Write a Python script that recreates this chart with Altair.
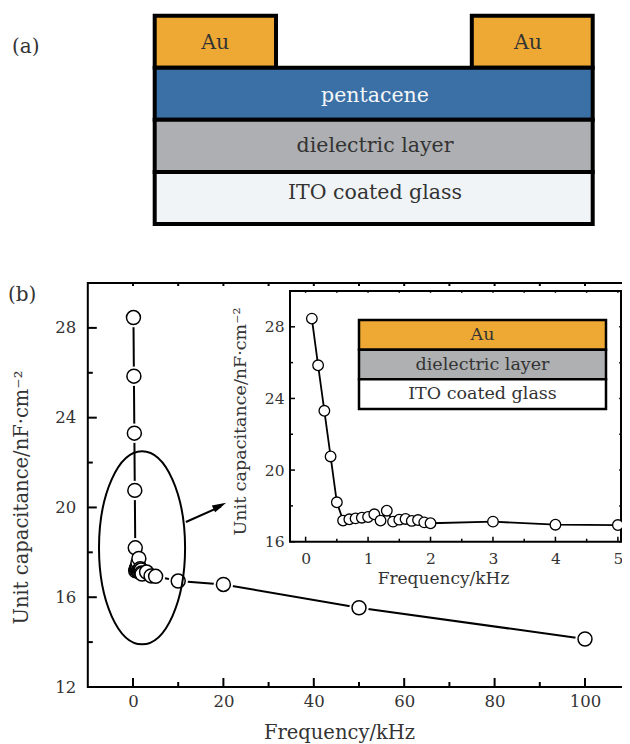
import altair as alt
import pandas as pd

FONT = "DejaVu Serif"
INK = "#333333"

# Measured capacitance
freq_low = [0.1, 0.2, 0.3, 0.4, 0.5, 0.6, 0.7, 0.8, 0.9, 1.0, 1.1, 1.2, 1.3, 1.4, 1.5, 1.6, 1.7, 1.8, 1.9, 2.0, 3, 4, 5]
cap_low = [28.46, 25.85, 23.31, 20.76, 18.2, 17.18, 17.25, 17.3, 17.34, 17.38, 17.53, 17.18, 17.73, 17.12, 17.23, 17.27, 17.16, 17.21, 17.08, 17.03, 17.12, 16.95, 16.93]
freq_high = [10, 20, 50, 100]
cap_high = [16.72, 16.57, 15.53, 14.14]

# Axis ticks
main_x_major = [0, 20, 40, 60, 80, 100]
main_x_minor = [10, 30, 50, 70, 90]
main_y_major = [12, 16, 20, 24, 28]
main_y_minor = [14, 18, 22, 26]
inset_x_major = [0, 1, 2, 3, 4, 5]
inset_x_minor = [0.5, 1.5, 2.5, 3.5, 4.5]
inset_y_major = [16, 20, 24, 28]
inset_y_minor = [18, 22, 26]

# Device stack (a)
stack_names = ["Au", "Au", "pentacene", "dielectric layer", "ITO coated glass"]
stack_x0 = [0, 0.724, 0, 0, 0]
stack_x1 = [0.277, 1, 1, 1, 1]
stack_y0 = [3, 3, 2, 1, 0]
stack_y1 = [4, 4, 3, 2, 1]
stack_fill = ["#EDA933", "#EDA933", "#3A70A6", "#AEAFB2", "#F1F4F6"]
stack_text = ["#333333", "#333333", "#F4F6F8", "#333333", "#333333"]
stack_tx = [0.138, 0.852, 0.503, 0.503, 0.503]
stack_ty = [3.48, 3.48, 2.46, 1.5, 0.6]

# Inset stack
key_names = ["Au", "dielectric layer", "ITO coated glass"]
key_fill = ["#EDA933", "#AEB0B2", "#FFFFFF"]
key_y0 = [2, 1, 0]
key_y1 = [3, 2, 1]

main_df = pd.DataFrame({"mf": freq_low + freq_high, "mc": cap_low + cap_high})
inset_df = pd.DataFrame({"inf": freq_low, "inc": cap_low})

# ---------------- scales
mx = alt.Scale(domain=[-10, 110], range=[79.8, 622.2], nice=False, zero=False)
my = alt.Scale(domain=[12, 30], range=[679, 275], nice=False, zero=False)
ix = alt.Scale(domain=[-0.25, 5.05], range=[282, 613], nice=False, zero=False)
iy = alt.Scale(domain=[16, 30], range=[533.7, 283], nice=False, zero=False)
sx = alt.Scale(domain=[0, 1], range=[146.7, 584.7], nice=False, zero=False)
sy = alt.Scale(domain=[0, 4], range=[216, 7.7], nice=False, zero=False)
kx = alt.Scale(domain=[0, 1], range=[351, 598], nice=False, zero=False)
ky = alt.Scale(domain=[0, 3], range=[401, 312], nice=False, zero=False)


def ticks(x_f, y_f, xs, ys, xscale, yscale, xlo, xhi, ylo, yhi, major, minor, x_major, y_major, width):
    """Inward tick marks on the frame, given in data units."""
    dx = (xhi - xlo) / abs(xscale.range[1] - xscale.range[0])
    dy = (yhi - ylo) / abs(yscale.range[1] - yscale.range[0])
    rows = []
    for v in xs:
        ln = major if v in x_major else minor
        rows.append((v, ylo, v, ylo + ln * dy))
        rows.append((v, yhi, v, yhi - minor * 0.6 * dy))
    for v in ys:
        ln = major if v in y_major else minor
        rows.append((xlo, v, xlo + ln * dx, v))
        rows.append((xhi, v, xhi - minor * 0.6 * dx, v))
    d = pd.DataFrame(rows, columns=[x_f, y_f, x_f + "2", y_f + "2"])
    return alt.Chart(d).mark_rule(color="black", strokeWidth=width).encode(
        x=alt.X(x_f + ":Q", scale=xscale, axis=None),
        x2=x_f + "2:Q",
        y=alt.Y(y_f + ":Q", scale=yscale, axis=None),
        y2=y_f + "2:Q",
    )


def frame(x_f, y_f, xlo, xhi, ylo, yhi, xscale, yscale, xaxis, yaxis, width):
    d = pd.DataFrame({x_f: [xlo], x_f + "2": [xhi], y_f: [ylo], y_f + "2": [yhi]})
    return alt.Chart(d).mark_rect(fillOpacity=0, stroke="black", strokeWidth=width).encode(
        x=alt.X(x_f + ":Q", scale=xscale, axis=xaxis),
        x2=x_f + "2:Q",
        y=alt.Y(y_f + ":Q", scale=yscale, axis=yaxis),
        y2=y_f + "2:Q",
    )


def axis(values, orient, offset, title, tx, ty, size, pad, tsize, fmt="d"):
    return alt.Axis(
        values=values, orient=orient, offset=offset, title=title, titleX=tx, titleY=ty,
        format=fmt, domain=False, ticks=False, grid=False, labelFont=FONT, labelFontSize=size,
        labelColor=INK, labelPadding=pad, labelFlush=False, labelOverlap=False,
        titleFont=FONT, titleFontSize=tsize, titleFontWeight="normal", titleColor=INK,
    )


CAP = "Unit capacitance/nF·cm⁻²"
FRQ = "Frequency/kHz"

main_frame = frame(
    "mf", "mc", -10, 110, 12, 30, mx, my,
    axis(main_x_major, "bottom", -57, FRQ, 331, 36, 16.5, 6, 19.5),
    axis(main_y_major, "left", -79.8, CAP, -56, 489, 16.5, 12, 19.5),
    2,
)
main_ticks = ticks("mf", "mc", main_x_major + main_x_minor, main_y_major + main_y_minor, mx, my,
                   -10, 110, 12, 30, 9, 5, main_x_major, main_y_major, 2)
enc_main = dict(
    x=alt.X("mf:Q", scale=mx, axis=None),
    y=alt.Y("mc:Q", scale=my, axis=None),
)
main_line = alt.Chart(main_df).mark_line(color="black", strokeWidth=2).encode(order=alt.Order("mf:Q"), **enc_main)
main_halo = alt.Chart(main_df).mark_point(shape="circle", filled=True, fill="white", stroke=None, opacity=1, size=380).encode(**enc_main)
main_pts = alt.Chart(main_df).mark_point(shape="circle", filled=True, fill="white", stroke="black", strokeWidth=1.5, opacity=1, size=195).encode(**enc_main)

ell_df = pd.DataFrame({"mf": [2.0], "mc": [18.2]})
ellipse = alt.Chart(ell_df).mark_point(
    shape="M0,-1A0.446,1 0 1,1 0,1A0.446,1 0 1,1 0,-1Z",
    size=193 ** 2, filled=False, stroke="black", strokeWidth=2, opacity=1,
).encode(**enc_main)
arrow_df = pd.DataFrame({"mf": [11.7], "mc": [19.35], "mf2": [19.5], "mc2": [20.05]})
arrow_line = alt.Chart(arrow_df).mark_rule(color="black", strokeWidth=2).encode(
    x=alt.X("mf:Q", scale=mx, axis=None), x2="mf2:Q",
    y=alt.Y("mc:Q", scale=my, axis=None), y2="mc2:Q",
)
head_df = pd.DataFrame({"mf": [19.2], "mc": [20.07]})
arrow_head = alt.Chart(head_df).mark_point(
    shape="M0,-1L0.55,1L-0.55,1Z", size=196, filled=True, fill="black", stroke=None, opacity=1, angle=64.6,
).encode(**enc_main)

main_layer = alt.layer(main_frame, main_ticks, main_line, main_halo, main_pts, ellipse, arrow_line, arrow_head).resolve_axis(x="independent", y="independent")

# ---------------- inset
inset_frame = frame(
    "inf", "inc", -0.25, 5.05, 16, 30, ix, iy,
    axis(inset_x_major, "bottom", -202.3, FRQ, 435, 29, 15.5, 10, 17),
    axis(inset_y_major, "left", -282, CAP, -41, 413, 15.5, 6, 17.5),
    2,
)
inset_ticks = ticks("inf", "inc", inset_x_major + inset_x_minor, inset_y_major + inset_y_minor, ix, iy,
                    -0.25, 5.05, 16, 30, 5, 3, inset_x_major, inset_y_major, 1.5)
enc_inset = dict(
    x=alt.X("inf:Q", scale=ix, axis=None),
    y=alt.Y("inc:Q", scale=iy, axis=None),
)
inset_line = alt.Chart(inset_df).mark_line(color="black", strokeWidth=1.8).encode(order=alt.Order("inf:Q"), **enc_inset)
inset_pts = alt.Chart(inset_df).mark_point(shape="circle", filled=True, fill="white", stroke="black", strokeWidth=1.3, opacity=1, size=112).encode(**enc_inset)
inset_layer = alt.layer(inset_frame, inset_ticks, inset_line, inset_pts).resolve_axis(x="independent", y="independent")

# ---------------- inset stack
key_df = pd.DataFrame({"name": key_names, "fill": key_fill, "ky": key_y0, "ky2": key_y1, "kx": [0] * 3, "kx2": [1] * 3,
                       "kt": [y + 0.5 for y in key_y0], "kc": [0.5] * 3})
key_rect = alt.Chart(key_df).mark_rect(stroke="black", strokeWidth=2.5).encode(
    x=alt.X("kx:Q", scale=kx, axis=None), x2="kx2:Q",
    y=alt.Y("ky:Q", scale=ky, axis=None), y2="ky2:Q",
    fill=alt.Fill("fill:N", scale=None),
)
key_text = alt.Chart(key_df).mark_text(font=FONT, fontSize=17.5, color=INK, baseline="middle").encode(
    x=alt.X("kc:Q", scale=kx, axis=None),
    y=alt.Y("kt:Q", scale=ky, axis=None),
    text="name:N",
)
key_layer = alt.layer(key_rect, key_text)

# ---------------- device stack
stack_df = pd.DataFrame({"name": stack_names, "sx": stack_x0, "sx2": stack_x1, "sy": stack_y0, "sy2": stack_y1,
                         "fill": stack_fill, "ink": stack_text, "tx": stack_tx, "ty": stack_ty})
stack_rect = alt.Chart(stack_df).mark_rect(stroke="black", strokeWidth=4).encode(
    x=alt.X("sx:Q", scale=sx, axis=None), x2="sx2:Q",
    y=alt.Y("sy:Q", scale=sy, axis=None), y2="sy2:Q",
    fill=alt.Fill("fill:N", scale=None),
)
stack_label = alt.Chart(stack_df).mark_text(font=FONT, fontSize=20.5, baseline="middle").encode(
    x=alt.X("tx:Q", scale=sx, axis=None),
    y=alt.Y("ty:Q", scale=sy, axis=None),
    text="name:N",
    color=alt.Color("ink:N", scale=None),
)
stack_layer = alt.layer(stack_rect, stack_label)

# ---------------- panel letters
panel_a = alt.Chart(pd.DataFrame({"t": ["(a)"]})).mark_text(font=FONT, fontSize=20, color=INK, align="left", baseline="middle").encode(
    x=alt.value(4), y=alt.value(39), text="t:N")
panel_b = alt.Chart(pd.DataFrame({"t": ["(b)"]})).mark_text(font=FONT, fontSize=20, color=INK, align="left", baseline="middle").encode(
    x=alt.value(0), y=alt.value(287), text="t:N")

chart = (
    alt.layer(main_layer, inset_layer, key_layer, stack_layer, panel_a, panel_b)
    .resolve_scale(x="independent", y="independent")
    .resolve_axis(x="independent", y="independent")
    .properties(width=614, height=736, background="white",
                autosize=alt.AutoSizeParams(type="none"), padding=0)
    .configure_view(stroke=None)
)

chart.save("out.html", embed_options={"renderer": "svg", "actions": False})
